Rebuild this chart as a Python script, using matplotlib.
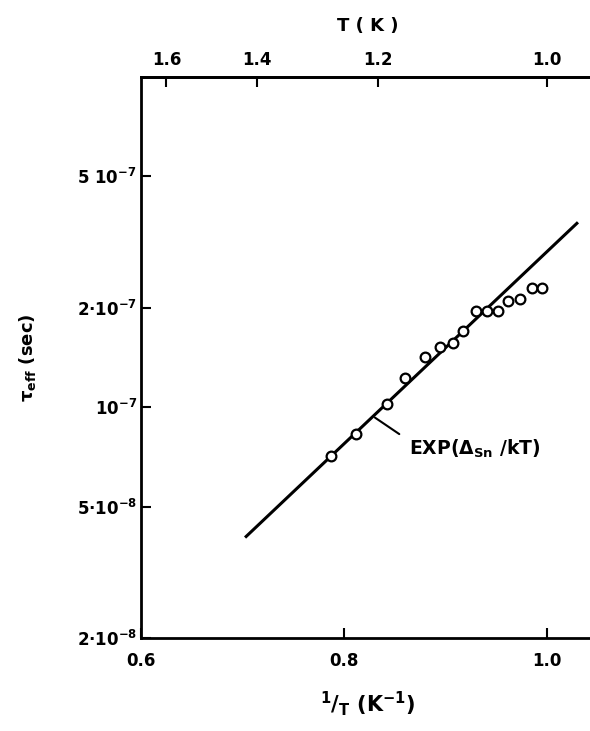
import matplotlib.pyplot as plt
from matplotlib.ticker import NullLocator

plt.rcParams['font.family'] = ['DejaVu Sans']
plt.rcParams['font.weight'] = 'bold'
plt.rcParams['axes.labelweight'] = 'bold'
plt.rcParams['mathtext.fontset'] = 'dejavusans'
plt.rcParams['mathtext.default'] = 'bf'

# measured points: 1/T (K^-1) and tau_eff (s)
inv_t = [0.787, 0.812, 0.842, 0.860, 0.880, 0.895, 0.907, 0.917,
         0.930, 0.941, 0.952, 0.962, 0.973, 0.985, 0.995]
tau = [0.71e-7, 0.83e-7, 1.02e-7, 1.23e-7, 1.42e-7, 1.52e-7, 1.56e-7, 1.70e-7,
       1.95e-7, 1.95e-7, 1.95e-7, 2.10e-7, 2.13e-7, 2.30e-7, 2.30e-7]

# exp(Delta/kT) fit, straight on the semilog axes
fit_x = [0.7025, 1.0305]
fit_tau = [4.03e-8, 3.63e-7]

y_ticks = [2e-8, 5e-8, 1e-7, 2e-7, 5e-7]
y_labels = ['2·10$^{-8}$', '5·10$^{-8}$', '10$^{-7}$', '2·10$^{-7}$', '5 10$^{-7}$']
x_ticks = [0.6, 0.8, 1.0]
x_labels = ['0.6', '0.8', '1.0']
t_ticks = [1.6, 1.4, 1.2, 1.0]
t_labels = ['1.6', '1.4', '1.2', '1.0']

dpi = 100
fig = plt.figure(figsize=(5.90, 7.31), dpi=dpi)
ax = fig.add_axes([0.239, 0.1272, 0.77, 0.7675])

ax.plot(fit_x, fit_tau, color='black', lw=2.2, solid_capstyle='butt')
ax.plot(inv_t, tau, 'o', ms=7, mfc='white', mec='black', mew=1.6)

ax.set_yscale('log')
ax.set_xlim(0.6, 0.6 + 0.77 * 590 / 1015)
ax.set_ylim(2e-8, 1e-6)

ax.set_yticks(y_ticks)
ax.set_yticklabels(y_labels)
ax.yaxis.set_minor_locator(NullLocator())
ax.set_xticks(x_ticks)
ax.set_xticklabels(x_labels)

for s in ax.spines.values():
    s.set_linewidth(2.0)
ax.spines['right'].set_visible(False)
ax.tick_params(direction='in', length=7, width=1.5, labelsize=12, pad=10)
ax.tick_params(axis='y', pad=3)

top = ax.secondary_xaxis('top', functions=(lambda x: 1 / x, lambda t: 1 / t))
top.set_xticks(t_ticks)
top.set_xticklabels(t_labels)
top.tick_params(direction='in', length=7, width=1.5, labelsize=12, pad=6)
top.spines['top'].set_linewidth(2.0)
top.set_xlabel('T ( K )', fontsize=13, labelpad=14)

ax.set_xlabel('$^{1}$/$_{T}$ (K$^{-1}$)', fontsize=15, labelpad=14)
ax.set_ylabel(r'$\tau_{eff}$ (sec)', fontsize=13, labelpad=28)

ax.annotate(r'EXP($\Delta_{Sn}$ /kT)', xy=(0.8305, 0.93e-7),
            xytext=(0.864, 0.75e-7), fontsize=13.5, va='center', ha='left',
            arrowprops=dict(arrowstyle='-', color='black', lw=1.5,
                            relpos=(0, 0.85), shrinkA=6, shrinkB=0))

fig.savefig('out.png', dpi=dpi)
